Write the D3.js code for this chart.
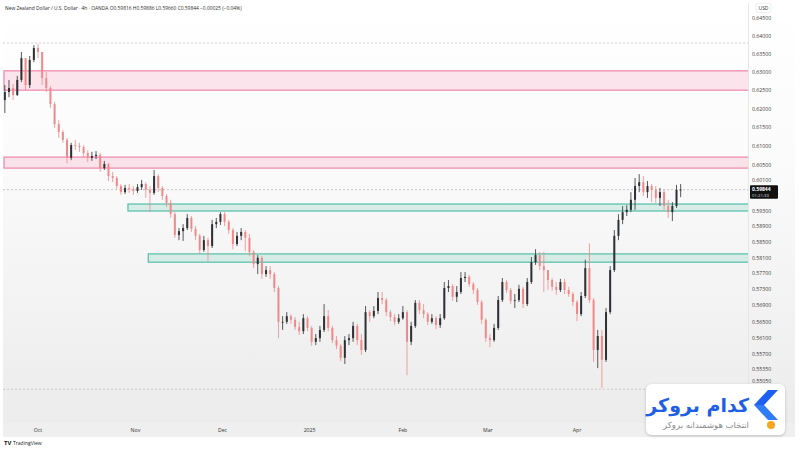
<!DOCTYPE html>
<html><head><meta charset="utf-8">
<script src="https://cdn.jsdelivr.net/npm/d3@7"></script>
<style>body{margin:0;background:#fff;} svg{display:block;font-family:"Open Sans","Noto Sans",sans-serif}</style>
</head><body><svg id="c" width="800" height="450"></svg>
<script>
// ---------- DATA ----------
const firstOpen = 0.6223;
const closes = [
0.6245,0.6256,0.6237,0.6278,0.6338,0.6264,0.6333,0.6366,0.6355,0.6283,
0.6256,0.6212,0.6158,0.6137,0.6116,0.6068,0.6102,0.6100,0.6097,0.6081,
0.6068,0.6073,0.6076,0.6041,0.6052,0.6020,0.6015,0.5994,0.5978,0.5989,
0.5986,0.5981,0.5991,0.5999,0.5984,0.5976,0.6020,0.5989,0.5968,0.5950,
0.5921,0.5867,0.5877,0.5885,0.5911,0.5883,0.5865,0.5829,0.5854,0.5839,
0.5895,0.5901,0.5921,0.5901,0.5880,0.5844,0.5865,0.5875,0.5860,0.5824,
0.5793,0.5809,0.5768,0.5778,0.5768,0.5733,0.5649,0.5649,0.5663,0.5654,
0.5636,0.5626,0.5658,0.5634,0.5600,0.5609,0.5629,0.5663,0.5634,0.5604,
0.5590,0.5561,0.5604,0.5609,0.5639,0.5604,0.5580,0.5673,0.5663,0.5676,
0.5708,0.5703,0.5673,0.5661,0.5649,0.5658,0.5673,0.5600,0.5639,0.5696,
0.5678,0.5668,0.5649,0.5658,0.5641,0.5658,0.5733,0.5738,0.5711,0.5723,
0.5758,0.5761,0.5743,0.5728,0.5698,0.5654,0.5609,0.5604,0.5634,0.5703,
0.5748,0.5728,0.5701,0.5703,0.5731,0.5693,0.5748,0.5798,0.5816,0.5788,
0.5778,0.5753,0.5736,0.5728,0.5748,0.5728,0.5718,0.5698,0.5668,0.5713,
0.5783,0.5703,0.5580,0.5614,0.5556,0.5673,0.5778,0.5865,0.5906,0.5926,
0.5932,0.5958,0.5994,0.6004,0.5978,0.5994,0.5984,0.5963,0.5978,0.5942,
0.5926,0.5942,0.5984,0.59844];
const highs = [
0.6264,0.6278,0.6267,0.6289,0.6355,0.6333,0.6344,0.6374,0.6378,0.6347,
0.6300,0.6261,0.6218,0.6169,0.6142,0.6121,0.6108,0.6116,0.6108,0.6102,
0.6089,0.6084,0.6086,0.6081,0.6060,0.6054,0.6031,0.6020,0.5999,0.5997,
0.5999,0.5994,0.5999,0.6010,0.6004,0.5994,0.6036,0.6025,0.5994,0.5973,
0.5958,0.5926,0.5885,0.5895,0.5921,0.5916,0.5890,0.5870,0.5865,0.5860,
0.5906,0.5911,0.5926,0.5926,0.5906,0.5885,0.5875,0.5885,0.5880,0.5870,
0.5829,0.5816,0.5814,0.5788,0.5788,0.5773,0.5738,0.5663,0.5673,0.5668,
0.5661,0.5649,0.5668,0.5663,0.5639,0.5619,0.5639,0.5693,0.5678,0.5639,
0.5614,0.5595,0.5614,0.5619,0.5649,0.5644,0.5619,0.5688,0.5678,0.5688,
0.5723,0.5723,0.5708,0.5678,0.5668,0.5668,0.5688,0.5678,0.5649,0.5703,
0.5703,0.5693,0.5673,0.5668,0.5663,0.5668,0.5748,0.5753,0.5743,0.5738,
0.5773,0.5773,0.5766,0.5748,0.5733,0.5703,0.5658,0.5619,0.5644,0.5713,
0.5758,0.5753,0.5733,0.5718,0.5741,0.5736,0.5758,0.5811,0.5831,0.5824,
0.5824,0.5763,0.5758,0.5748,0.5756,0.5756,0.5736,0.5723,0.5703,0.5723,
0.5804,0.5846,0.5708,0.5629,0.5629,0.5683,0.5788,0.5880,0.5921,0.5942,
0.5944,0.5978,0.6015,0.6025,0.6020,0.6007,0.5999,0.5994,0.5989,0.5984,
0.5958,0.5952,0.5997,0.5999];
const lows = [
0.6188,0.6231,0.6223,0.6234,0.6272,0.6250,0.6256,0.6327,0.6338,0.6264,
0.6245,0.6202,0.6148,0.6121,0.6108,0.6054,0.6062,0.6089,0.6084,0.6070,
0.6057,0.6060,0.6065,0.6031,0.6036,0.6007,0.6004,0.5986,0.5971,0.5973,
0.5976,0.5971,0.5976,0.5984,0.5963,0.5926,0.5971,0.5978,0.5958,0.5939,
0.5911,0.5860,0.5854,0.5852,0.5880,0.5875,0.5854,0.5819,0.5824,0.5801,
0.5834,0.5885,0.5893,0.5890,0.5870,0.5831,0.5839,0.5854,0.5826,0.5814,
0.5783,0.5768,0.5756,0.5761,0.5756,0.5723,0.5609,0.5629,0.5644,0.5644,
0.5629,0.5617,0.5619,0.5626,0.5590,0.5592,0.5600,0.5624,0.5626,0.5597,
0.5582,0.5553,0.5546,0.5592,0.5600,0.5592,0.5568,0.5575,0.5649,0.5658,
0.5668,0.5693,0.5663,0.5651,0.5641,0.5644,0.5654,0.5519,0.5592,0.5634,
0.5668,0.5658,0.5641,0.5644,0.5631,0.5634,0.5654,0.5723,0.5701,0.5698,
0.5718,0.5748,0.5736,0.5718,0.5691,0.5644,0.5600,0.5587,0.5600,0.5629,
0.5698,0.5721,0.5693,0.5683,0.5698,0.5683,0.5688,0.5743,0.5791,0.5778,
0.5723,0.5728,0.5726,0.5716,0.5723,0.5718,0.5711,0.5688,0.5651,0.5663,
0.5708,0.5696,0.5551,0.5536,0.5488,0.5551,0.5668,0.5773,0.5854,0.5895,
0.5916,0.5926,0.5932,0.5978,0.5968,0.5963,0.5952,0.5950,0.5942,0.5932,
0.5911,0.5903,0.5937,0.5965];

const monthLabels = ["Oct","Nov","Dec","2025","Feb","Mar","Apr"];
const monthIndex  = [8, 31.5, 52.5, 73.5, 96, 116.5, 138];

const priceTicks = [0.645,0.640,0.635,0.630,0.625,0.620,0.615,0.610,0.605,0.601,
                    0.593,0.589,0.585,0.581,0.577,0.573,0.569,0.565,0.561,0.557,0.5535,0.5505];

const zoneTop    = [0.6303, 0.6070, 0.5947, 0.5819];
const zoneBottom = [0.6250, 0.6041, 0.5929, 0.5798];
const zoneStart  = [0, 0, 29.7, 34.6];
const zoneKind   = ["pink","pink","green","green"];

const periodHigh = 0.6380;
const periodLow  = 0.5485;
const lastPrice  = 0.59844;
const lastTimer  = "01:21:33";
const headerText = "New Zealand Dollar / U.S. Dollar · 4h · OANDA  O0.59816  H0.59886  L0.59660  C0.59844  −0.00025 (−0.04%)";

// ---------- CHART ----------
const W = 800, H = 450;
const P = {l:3, r:748, t:3, b:423};
const svg = d3.select("#c");
const defs = svg.append("defs");
const grad = defs.append("linearGradient").attr("id","bg").attr("x1",0).attr("y1",0).attr("x2",0).attr("y2",1);
grad.append("stop").attr("offset","0%").attr("stop-color","#ffffff");
grad.append("stop").attr("offset","35%").attr("stop-color","#fbfbfb");
grad.append("stop").attr("offset","100%").attr("stop-color","#ebebeb");
defs.append("clipPath").attr("id","clip").append("rect")
  .attr("x",P.l).attr("y",P.t).attr("width",P.r-P.l).attr("height",P.b-P.t);
const sh = defs.append("filter").attr("id","shadow").attr("x","-20%").attr("y","-20%").attr("width","140%").attr("height","150%");
sh.append("feDropShadow").attr("dx",0).attr("dy",1).attr("stdDeviation",1.6).attr("flood-color","#000").attr("flood-opacity",0.22);

svg.append("rect").attr("width",W).attr("height",H).attr("fill","#fff");
svg.append("rect").attr("x",3).attr("y",3).attr("width",792).attr("height",434).attr("fill","url(#bg)");

const x = d3.scaleLinear().domain([8,138]).range([38,577]);
const y = d3.scaleLog().domain([0.5505,0.645]).range([381,18]);

const plot = svg.append("g").attr("clip-path","url(#clip)");

// reference dashed lines
[periodHigh, periodLow].forEach(v=>{
  plot.append("line").attr("x1",P.l).attr("x2",P.r).attr("y1",y(v)).attr("y2",y(v))
    .attr("stroke","#c4c4c4").attr("stroke-width",0.8).attr("stroke-dasharray","2,2");
});

// zones
zoneTop.forEach((t,i)=>{
  const pink = zoneKind[i]==="pink";
  const x0 = zoneStart[i]===0 ? 4 : x(zoneStart[i]);
  plot.append("rect")
    .attr("x", x0).attr("y", y(t)).attr("width", P.r + 2 - x0)
    .attr("height", y(zoneBottom[i]) - y(t))
    .attr("fill", pink ? "rgba(248,187,208,0.38)" : "rgba(178,223,213,0.45)")
    .attr("stroke", pink ? "#f28cb1" : "#5ec2ae").attr("stroke-width",1.3);
});

// last price line
plot.append("line").attr("x1",P.l).attr("x2",P.r).attr("y1",y(lastPrice)).attr("y2",y(lastPrice))
  .attr("stroke","#b5b5b5").attr("stroke-width",0.8).attr("stroke-dasharray","2,2");

// candles
const candles = closes.map((c,i)=>({i, o: i===0?firstOpen:closes[i-1], c, h: highs[i], l: lows[i]}));
const upCol = "#2f3034", dnCol = "#f08a8a";
const cg = plot.append("g");
cg.selectAll("line.w").data(candles).join("line").attr("class","w")
  .attr("x1",d=>x(d.i)).attr("x2",d=>x(d.i))
  .attr("y1",d=>y(Math.max(d.h,d.o,d.c))).attr("y2",d=>y(Math.min(d.l,d.o,d.c)))
  .attr("stroke",d=>d.c>=d.o?upCol:dnCol).attr("stroke-width",0.8);
cg.selectAll("rect.b").data(candles).join("rect").attr("class","b")
  .attr("x",d=>x(d.i)-1).attr("width",2)
  .attr("y",d=>y(Math.max(d.o,d.c)))
  .attr("height",d=>Math.max(0.8, Math.abs(y(d.o)-y(d.c))))
  .attr("fill",d=>d.c>=d.o?upCol:dnCol);

// right axis
svg.append("line").attr("x1",P.r+0.5).attr("x2",P.r+0.5).attr("y1",P.t).attr("y2",P.b)
  .attr("stroke","#e6e6e6").attr("stroke-width",1);
const ax = svg.append("g").attr("transform",`translate(${P.r+4},0)`)
  .call(d3.axisRight(y).tickValues(priceTicks).tickFormat(d3.format(".5f")).tickSize(0).tickPadding(0));
ax.select(".domain").remove();
ax.selectAll("text").attr("font-size",5.2).attr("fill","#3a3a3a").attr("font-family","'Open Sans',sans-serif");

// USD label
svg.append("rect").attr("x",756).attr("y",3.5).attr("width",15).attr("height",9).attr("rx",1.5)
  .attr("fill","#fff").attr("stroke","#e3e3e3").attr("stroke-width",0.6);
svg.append("text").attr("x",763.5).attr("y",10).attr("text-anchor","middle")
  .attr("font-size",5).attr("fill","#333").text("USD");

// last price tag
const ly = y(lastPrice);
svg.append("rect").attr("x",750).attr("y",ly-4.5).attr("width",28).attr("height",13.5).attr("rx",1)
  .attr("fill","#111");
svg.append("text").attr("x",752).attr("y",ly+1.3).attr("font-size",5).attr("font-weight","bold")
  .attr("fill","#fff").text(d3.format(".5f")(lastPrice));
svg.append("text").attr("x",752).attr("y",ly+7.6).attr("font-size",4.3)
  .attr("fill","#ddd").text(lastTimer);

// time axis strip
svg.append("rect").attr("x",3).attr("y",P.b).attr("width",792).attr("height",14).attr("fill","#efefef");
svg.append("g").selectAll("text").data(monthLabels).join("text")
  .attr("x",(d,i)=>x(monthIndex[i])).attr("y",P.b+8.5).attr("text-anchor","middle")
  .attr("font-size",5.2).attr("fill","#333").text(d=>d);

// header
svg.append("text").attr("x",5).attr("y",9.5).attr("font-size",4.9).attr("fill","#2a2a2a").text(headerText);

// TradingView mark
svg.append("text").attr("x",4).attr("y",445).attr("font-size",6).attr("font-weight","bold").attr("fill","#131722").text("TV");
svg.append("text").attr("x",13).attr("y",445).attr("font-size",5).attr("fill","#131722").text("TradingView");

// brand box
const bb = svg.append("g");
bb.append("rect").attr("x",646).attr("y",384).attr("width",139).attr("height",51).attr("rx",6)
  .attr("fill","#fff").attr("filter","url(#shadow)");
bb.append("path").attr("d","M768,390 L778,390 L764,405 L754,405 Z").attr("fill","#1d5ff0");
bb.append("path").attr("d","M754,405 L764,405 L778,420 L768,420 Z").attr("fill","#2f7cf6");
bb.append("circle").attr("cx",771).attr("cy",425).attr("r",4).attr("fill","#f5a623");
bb.append("text").attr("x",749).attr("y",412).attr("text-anchor","end")
  .attr("font-family","'DejaVu Sans',sans-serif").attr("font-weight","bold").attr("font-size",19)
  .attr("fill","#1e5fe6").text("کدام بروکر");
bb.append("text").attr("x",749).attr("y",427.5).attr("text-anchor","end")
  .attr("font-family","'DejaVu Sans',sans-serif").attr("font-size",8.5)
  .attr("fill","#8a8a8a").text("انتخاب هوشمندانه بروکر");
</script></body></html>
